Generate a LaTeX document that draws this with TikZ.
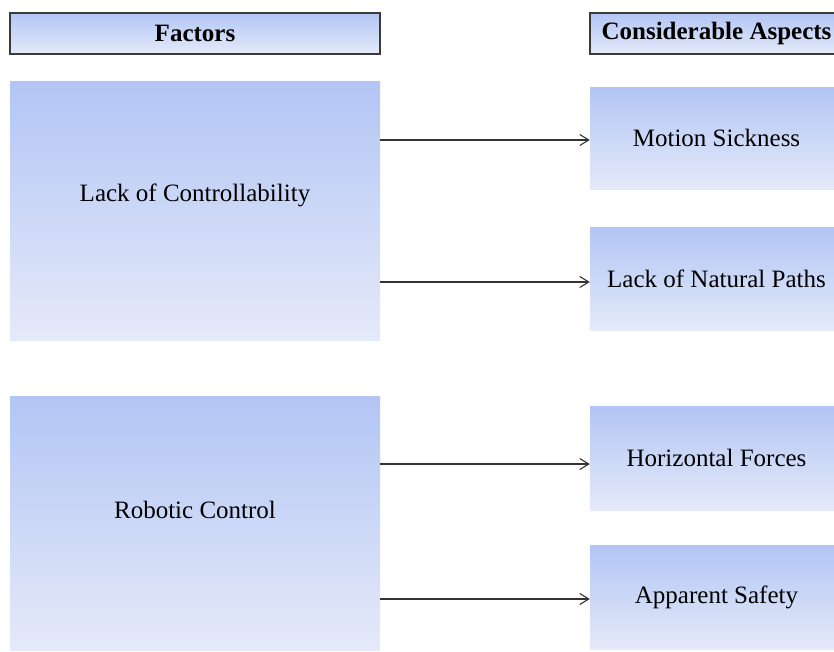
\documentclass[tikz,border=0pt]{standalone}
\usepackage{fontspec}
\setmainfont{Liberation Serif}
\usetikzlibrary{arrows.meta}
\definecolor{boxtop}{HTML}{B2C5F4}
\definecolor{boxbot}{HTML}{E5EAF9}
\definecolor{headline}{HTML}{3A3A3A}
\definecolor{arrowgray}{HTML}{333333}
\begin{document}
\begin{tikzpicture}[x=1pt,y=-1pt,
  box/.style={rectangle, inner sep=0pt, top color=boxtop, bottom color=boxbot, draw=none},
  head/.style={box, draw=headline, line width=1.3pt, font=\fontsize{25}{30}\selectfont\bfseries},
  lbl/.style={inner sep=0pt, font=\fontsize{25}{30}\selectfont},
  arr/.style={draw=arrowgray, line width=1.1pt, -{Straight Barb[length=9pt,width=11pt]}}]
\useasboundingbox (0,0) rectangle (834,651);
\clip (0,0) rectangle (834,651);
% headers
\node[head, minimum width=370pt, minimum height=41pt] (hf) at (195,33.5) {Factors};
\node[head, minimum width=253pt, minimum height=41pt] (ha) at (716.5,33.5) {Considerable Aspects};
% left boxes
\node[box, minimum width=370pt, minimum height=259pt] (l1) at (195,210.5) {};
\node[lbl] (l1t) at (195,195) {Lack of Controllability};
\node[box, minimum width=370pt, minimum height=254pt] (l2) at (195,523) {};
\node[lbl] (l2t) at (195,510) {Robotic Control};
% right boxes
\node[box, lbl, minimum width=253pt, minimum height=102pt] (r1) at (716.5,138) {Motion Sickness};
\node[box, lbl, minimum width=253pt, minimum height=103pt] (r2) at (716.5,278.5) {Lack of Natural Paths};
\node[box, lbl, minimum width=253pt, minimum height=104pt] (r3) at (716.5,458) {Horizontal Forces};
\node[box, lbl, minimum width=253pt, minimum height=104pt] (r4) at (716.5,597) {Apparent Safety};
% arrow anchors
\coordinate (a1s) at (l1.east |- 0,140);
\coordinate (a1e) at (r1.west |- 0,140);
\coordinate (a2s) at (l1.east |- 0,282);
\coordinate (a2e) at (r2.west |- 0,282);
\coordinate (a3s) at (l2.east |- 0,464);
\coordinate (a3e) at (r3.west |- 0,464);
\coordinate (a4s) at (l2.east |- 0,599);
\coordinate (a4e) at (r4.west |- 0,599);
\draw[arr] (a1s) -- (a1e);
\draw[arr] (a2s) -- (a2e);
\draw[arr] (a3s) -- (a3e);
\draw[arr] (a4s) -- (a4e);
\end{tikzpicture}
\end{document}
